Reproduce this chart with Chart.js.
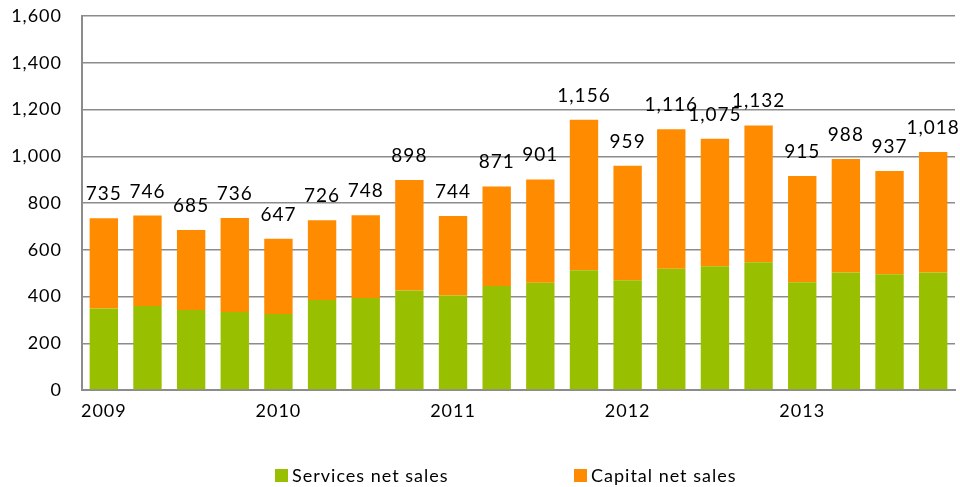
<!DOCTYPE html>
<html>
<head>
<meta charset="utf-8">
<script src="https://cdn.jsdelivr.net/npm/chart.js@4/dist/chart.umd.min.js"></script>
<style>
  body { margin: 0; background: #fff; }
  #wrap { position: relative; width: 960px; height: 487px; }
  #legend { position: absolute; top: 464px; left: 0; width: 960px; font-family: Lato, "Liberation Sans", sans-serif; font-size: 18px; letter-spacing: 1px; color: #000; }
  .item { position: absolute; display: flex; align-items: center; }
  .box { width: 13px; height: 13px; margin-right: 4px; }
</style>
</head>
<body>
<div id="wrap">
  <canvas id="chart"></canvas>
  <div id="legend">
    <div class="item" style="left:275px"><span class="box" style="background:#99c000"></span>Services net sales</div>
    <div class="item" style="left:574px"><span class="box" style="background:#ff8c00"></span>Capital net sales</div>
  </div>
</div>
<script>
// Trimestres 2009-2013, etiqueta solo en el primero de cada año
const etiquetas = ["2009", "", "", "", "2010", "", "", "", "2011", "", "", "", "2012", "", "", "", "2013", "", "", ""];

// Totales mostrados sobre cada barra
const totales = [735, 746, 685, 736, 647, 726, 748, 898, 744, 871, 901, 1156, 959, 1116, 1075, 1132, 915, 988, 937, 1018];

// Parte verde (servicios)
const servicios = [349, 359, 342, 334, 325, 385, 394, 426, 404, 445, 459, 512, 469, 519, 529, 546, 461, 503, 495, 503];

// Parte naranja = total - servicios
const capital = totales.map((t, i) => t - servicios[i]);

const fuente = "Lato, 'Liberation Sans', sans-serif";

// Espaciado de letras parecido al original (Calibri)
const espaciado = {
  id: "espaciado",
  beforeLayout(chart) { chart.ctx.letterSpacing = "1px"; },
  beforeDraw(chart) { chart.ctx.letterSpacing = "1px"; },
};

// Dibuja el total encima de cada barra apilada
const etiquetasTotales = {
  id: "etiquetasTotales",
  afterDatasetsDraw(chart) {
    const ctx = chart.ctx;
    const meta = chart.getDatasetMeta(1);
    const y = chart.scales.y;
    ctx.save();
    ctx.letterSpacing = "1px";
    ctx.font = "19px " + fuente;
    ctx.fillStyle = "#000";
    ctx.textAlign = "center";
    ctx.textBaseline = "alphabetic";
    totales.forEach((t, i) => {
      const x = meta.data[i].x;
      ctx.fillText(t.toLocaleString("en-US"), x, y.getPixelForValue(t) - 18);
    });
    ctx.restore();
  },
};

new Chart(document.getElementById("chart"), {
  type: "bar",
  data: {
    labels: etiquetas,
    datasets: [
      { label: "Services net sales", data: servicios, backgroundColor: "#99c000" },
      { label: "Capital net sales", data: capital, backgroundColor: "#ff8c00" },
    ],
  },
  options: {
    responsive: true,
    maintainAspectRatio: false,
    animation: false,
    layout: { padding: { top: 16, right: 5, bottom: 0, left: 0 } },
    datasets: { bar: { barPercentage: 0.65, categoryPercentage: 1 } },
    plugins: {
      legend: { display: false },
      tooltip: { enabled: false },
    },
    scales: {
      x: {
        stacked: true,
        afterFit(scale) { scale.height = 97; },
        grid: { display: false },
        border: { display: true, color: "#8c8c8c", width: 2 },
        ticks: {
          autoSkip: false,
          maxRotation: 0,
          padding: 2,
          color: "#000",
          font: { family: fuente, size: 18 },
        },
      },
      y: {
        stacked: true,
        min: 0,
        max: 1600,
        afterFit(scale) {
          scale.width = 82;
          scale.paddingTop = 0;
          scale.paddingBottom = 0;
        },
        grid: { color: "#8c8c8c", lineWidth: 1.5, drawTicks: false },
        border: { display: true, color: "#8c8c8c", width: 2 },
        ticks: {
          stepSize: 200,
          padding: 20,
          color: "#000",
          font: { family: fuente, size: 18 },
          callback: (v) => v.toLocaleString("en-US"),
        },
      },
    },
  },
  plugins: [espaciado, etiquetasTotales],
});
</script>
</body>
</html>
